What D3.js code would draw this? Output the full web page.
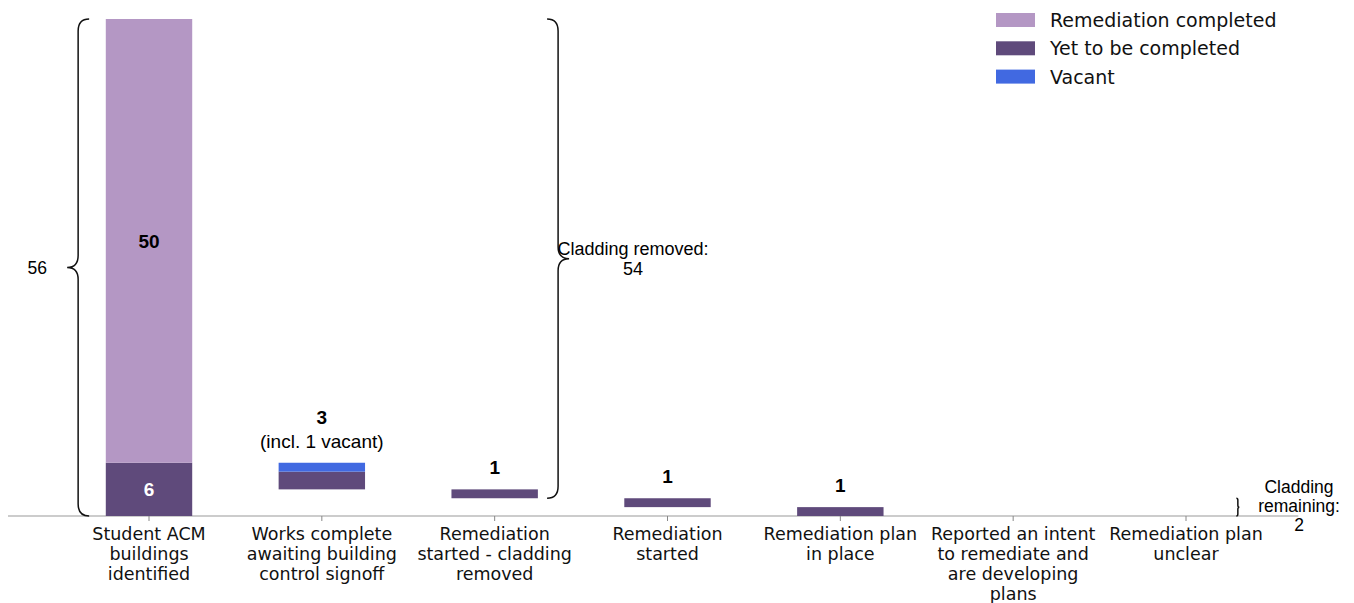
<html>
<head>
<script src="https://d3js.org/d3.v7.min.js"></script>
<style>
  body {margin: 0; background: #fff;}
</style>
</head>
<body>
<div id="chart"></div>
<script>
// categories and values
var categories = [
  ["Student ACM", "buildings", "identified"],
  ["Works complete", "awaiting building", "control signoff"],
  ["Remediation", "started - cladding", "removed"],
  ["Remediation", "started"],
  ["Remediation plan", "in place"],
  ["Reported an intent", "to remediate and", "are developing", "plans"],
  ["Remediation plan", "unclear"]
];
var completed = [50, 0, 0, 0, 0, 0, 0];
var yetToComplete = [6, 2, 1, 1, 1, 0, 0];
var vacant = [0, 1, 0, 0, 0, 0, 0];
var legendNames = ["Remediation completed", "Yet to be completed", "Vacant"];
var colors = ["#b497c4", "#5f4a7b", "#4169e1"];

var width = 1354, height = 603;
var svg = d3.select("#chart").append("svg")
  .attr("width", width)
  .attr("height", height);

var total = completed[0] + yetToComplete[0];
var xScale = d3.scaleLinear().domain([0, 6]).range([149, 1186]);
var yScale = d3.scaleLinear().domain([0, total]).range([516, 19]);
var step = xScale(1) - xScale(0);
var barW = step * 0.5;

// waterfall base for each bar: what remains after it
var bars = categories.map(function(c, i) {
  var rest = 0;
  if (i > 0) {
    for (var j = i + 1; j < categories.length; j++) rest += yetToComplete[j] + vacant[j];
  }
  return {i: i, base: rest, comp: completed[i], yet: yetToComplete[i], vac: vacant[i]};
});

// x axis line and ticks
svg.append("line")
  .attr("x1", xScale(-0.816)).attr("x2", xScale(6.65))
  .attr("y1", yScale(0)).attr("y2", yScale(0))
  .style("stroke", "#bbbbbb").style("stroke-width", 1.5);

bars.forEach(function(b) {
  var cx = xScale(b.i);
  svg.append("line")
    .attr("x1", cx).attr("x2", cx)
    .attr("y1", yScale(0)).attr("y2", yScale(0) + 5)
    .style("stroke", "#888").style("stroke-width", 1);

  var y0 = b.base;
  // yet to be completed at the bottom, then vacant, then completed
  [[b.yet, colors[1]], [b.vac, colors[2]], [b.comp, colors[0]]].forEach(function(s) {
    if (s[0] > 0) {
      svg.append("rect")
        .attr("x", cx - barW / 2)
        .attr("y", yScale(y0 + s[0]))
        .attr("width", barW)
        .attr("height", yScale(y0) - yScale(y0 + s[0]))
        .style("fill", s[1]);
    }
    y0 += s[0];
  });

  // category label
  var t = svg.append("text")
    .attr("x", cx).attr("y", 540)
    .attr("text-anchor", "middle")
    .style("font-family", "DejaVu Sans")
    .style("font-size", "17.5px")
    .style("fill", "#111");
  categories[b.i].forEach(function(line, k) {
    t.append("tspan").attr("x", cx).attr("dy", k == 0 ? 0 : 20).text(line);
  });

  // value labels
  var top = yScale(b.base + b.yet + b.vac + b.comp);
  if (b.i == 0) {
    svg.append("text").attr("x", cx).attr("y", yScale(b.yet + b.comp / 2) + 7)
      .attr("text-anchor", "middle")
      .style("font-family", "Liberation Sans").style("font-weight", "bold").style("font-size", "19px")
      .text(b.comp);
    svg.append("text").attr("x", cx).attr("y", yScale(b.yet / 2) + 7)
      .attr("text-anchor", "middle")
      .style("font-family", "Liberation Sans").style("font-weight", "bold").style("font-size", "19px")
      .style("fill", "#fff")
      .text(b.yet);
  } else if (b.yet + b.vac > 0) {
    var lineY = top - 15;
    if (b.vac > 0) {
      svg.append("text").attr("x", cx).attr("y", lineY)
        .attr("text-anchor", "middle")
        .style("font-family", "Liberation Sans").style("font-size", "19px")
        .text("(incl. " + b.vac + " vacant)");
      lineY -= 24;
    }
    svg.append("text").attr("x", cx).attr("y", lineY)
      .attr("text-anchor", "middle")
      .style("font-family", "Liberation Sans").style("font-weight", "bold").style("font-size", "19px")
      .text(b.yet + b.vac);
  }
});

// curly brace path, vertical at x, from y1 (top) to y2 (bottom), tip pointing dir (-1 left, 1 right)
function brace(x, y1, y2, dir, w, r) {
  var mid = (y1 + y2) / 2;
  var p = d3.path();
  p.moveTo(x - dir * w, y1);
  p.quadraticCurveTo(x, y1, x, y1 + r);
  p.lineTo(x, mid - r);
  p.quadraticCurveTo(x, mid, x + dir * w, mid);
  p.quadraticCurveTo(x, mid, x, mid + r);
  p.lineTo(x, y2 - r);
  p.quadraticCurveTo(x, y2, x - dir * w, y2);
  svg.append("path").attr("d", p.toString())
    .style("fill", "none").style("stroke", "#111").style("stroke-width", 1.5);
}

var removed = total - d3.sum(bars.slice(3), function(b) { return b.yet + b.vac; });
var remaining = total - removed;

brace(xScale(-0.41), yScale(total), yScale(0), -1, 11, 12);
svg.append("text").attr("x", 47).attr("y", yScale(total / 2) + 6)
  .attr("text-anchor", "end")
  .style("font-family", "Liberation Sans").style("font-size", "17.5px")
  .text(total);

brace(xScale(2.367), yScale(total), yScale(remaining), 1, 11, 12);
var t1 = svg.append("text").attr("x", 633).attr("y", yScale((total + remaining) / 2) - 4)
  .attr("text-anchor", "middle")
  .style("font-family", "Liberation Sans").style("font-size", "18px");
t1.append("tspan").attr("x", 633).text("Cladding removed:");
t1.append("tspan").attr("x", 633).attr("dy", 20).text(removed);

brace(xScale(6.3), yScale(remaining), yScale(0), 1, 1.5, 2);
var t2 = svg.append("text").attr("x", 1299).attr("y", 493)
  .attr("text-anchor", "middle")
  .style("font-family", "Liberation Sans").style("font-size", "17.5px");
t2.append("tspan").attr("x", 1299).text("Cladding");
t2.append("tspan").attr("x", 1299).attr("dy", 19).text("remaining:");
t2.append("tspan").attr("x", 1299).attr("dy", 19).text(remaining);

// legend
legendNames.forEach(function(n, k) {
  svg.append("rect").attr("x", 996).attr("y", 13 + k * 28.3)
    .attr("width", 39).attr("height", 14).style("fill", colors[k]);
  svg.append("text").attr("x", 1050).attr("y", 27 + k * 28.3)
    .style("font-family", "DejaVu Sans").style("font-size", "19px")
    .style("fill", "#111")
    .text(n);
});
</script>
</body>
</html>
